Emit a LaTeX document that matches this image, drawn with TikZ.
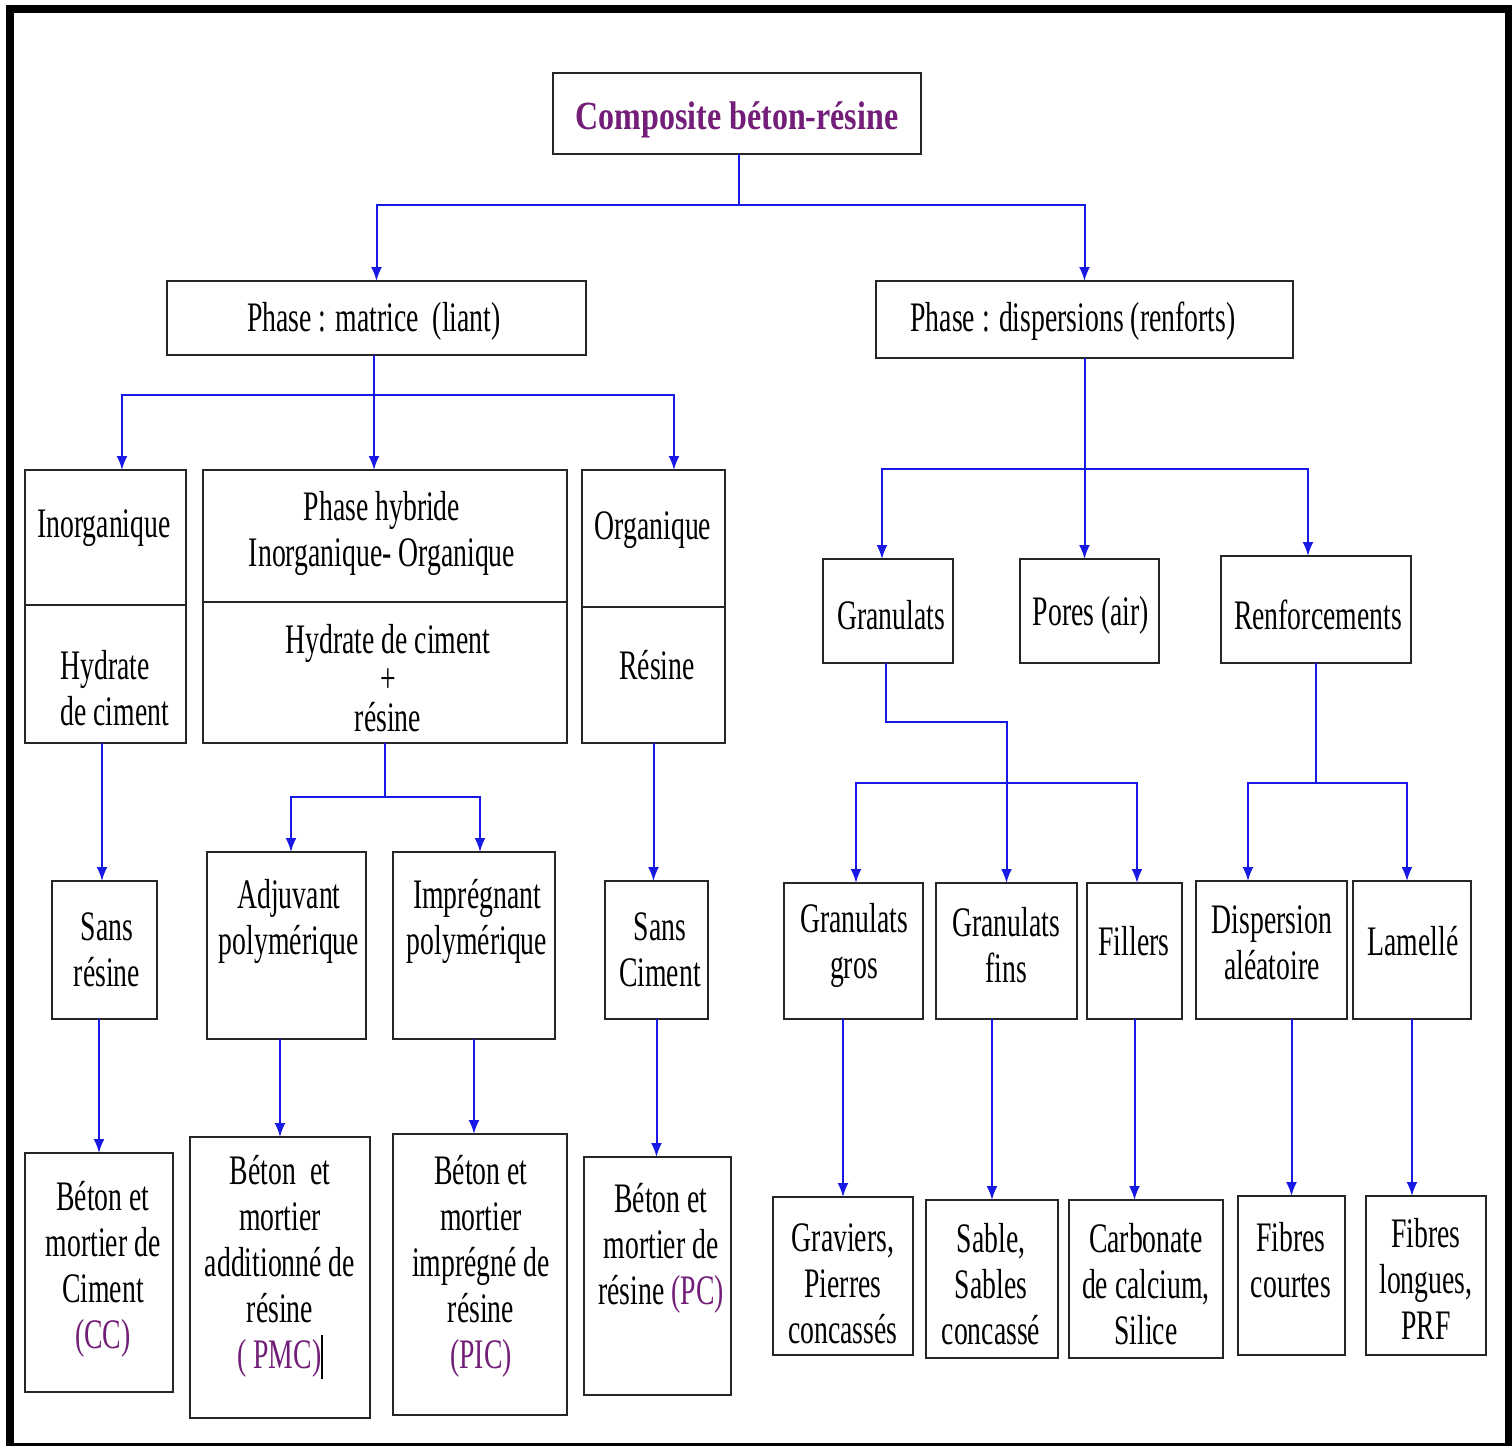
\documentclass[tikz,border=0pt]{standalone}
\usepackage{fontspec}
\setmainfont{Liberation Serif}[FakeStretch=0.66]
\newfontfamily\titlefont{Liberation Serif}[FakeStretch=0.8]
\usetikzlibrary{arrows.meta,fit}
\definecolor{purp}{RGB}{115,30,120}
\definecolor{blu}{RGB}{25,25,230}
\tikzset{
 box/.style={draw=black!85, line width=1pt, inner sep=0pt, outer sep=0pt},
 txt/.style={align=center, inner sep=0pt, yshift=-1.5pt, font=\fontsize{21}{23}\selectfont},
 conn/.style={draw=blu, line width=1pt},
 arr/.style={conn, -{Latex[length=7pt,width=5.5pt]}},
}
\newcommand{\bx}[5]{\node[box, fit={(#2,#3)(#4,#5)}] (#1) {};}
\begin{document}
\begin{tikzpicture}[x=0.5pt,y=-0.5pt]
\useasboundingbox (0,0) rectangle (1512,1446);
\fill[white] (0,0) rectangle (1512,1446);
\draw[line width=4pt] (9.5,9) rectangle (1508.5,1447);
% boxes
\bx{title}{553}{73}{921}{154}
\bx{matrice}{167}{281}{586}{355}
\bx{disp}{876}{281}{1293}{358}
\bx{inorgT}{25}{470}{186}{605}
\bx{inorgB}{25}{605}{186}{743}
\bx{hybT}{203}{470}{567}{602}
\bx{hybB}{203}{602}{567}{743}
\bx{orgT}{582}{470}{725}{607}
\bx{orgB}{582}{607}{725}{743}
\bx{sansres}{52}{881}{157}{1019}
\bx{adj}{207}{852}{366}{1039}
\bx{impr}{393}{852}{555}{1039}
\bx{sansc}{605}{881}{708}{1019}
\bx{cc}{25}{1153}{173}{1392}
\bx{pmc}{190}{1137}{370}{1418}
\bx{pic}{393}{1134}{567}{1415}
\bx{pc}{584}{1157}{731}{1395}
\bx{gran}{823}{559}{953}{663}
\bx{pores}{1020}{559}{1159}{663}
\bx{renf}{1221}{556}{1411}{663}
\bx{gros}{784}{883}{923}{1019}
\bx{fins}{936}{883}{1077}{1019}
\bx{fill}{1087}{883}{1182}{1019}
\bx{disal}{1196}{881}{1347}{1019}
\bx{lam}{1353}{881}{1471}{1019}
\bx{grav}{773}{1197}{913}{1355}
\bx{sable}{926}{1200}{1058}{1358}
\bx{carb}{1069}{1200}{1223}{1358}
\bx{fc}{1238}{1196}{1345}{1355}
\bx{fl}{1366}{1196}{1486}{1355}
% texts
\node[inner sep=0pt, text=purp, yshift=-1.5pt, font=\titlefont\bfseries\fontsize{20}{23}\selectfont] (t-title) at (737,117) {Composite béton-résine};
\node[txt] (t-matrice) at (374,318) {Phase : matrice\ \ (liant)};
\node[txt] (t-disp) at (1073,318) {Phase : dispersions (renforts)};
\node[txt] (t-inorgT) at (104,525) {Inorganique};
\node[txt, align=left, anchor=west] (t-inorgB) at (60,685) {Hydrate\\de ciment};
\node[txt] (t-hybT) at (382,530) {Phase hybride\\Inorganique- Organique};
\node[txt, font=\fontsize{21}{19.5}\selectfont] (t-hybB) at (388,675) {Hydrate de ciment\\+\\résine};
\node[txt] (t-orgT) at (653,527) {Organique};
\node[txt] (t-orgB) at (657,662) {Résine};
\node[txt] (t-sansres) at (107,947) {Sans\\résine};
\node[txt] (t-adj) at (289,918) {Adjuvant\\polymérique};
\node[txt] (t-impr) at (477,918) {Imprégnant\\polymérique};
\node[txt] (t-sansc) at (660,947) {Sans\\Ciment};
\node[txt] (t-cc) at (103,1266) {Béton et\\mortier de\\Ciment\\\textcolor{purp}{(CC)}};
\node[txt] (t-pmc) at (280,1264) {Béton\ \ et\\mortier\\additionné de\\résine\\\textcolor{purp}{( PMC)}\rule[-0.25em]{0.7pt}{1.05em}};
\node[txt] (t-pic) at (481,1263) {Béton et\\mortier\\imprégné de\\résine\\\textcolor{purp}{(PIC)}};
\node[txt] (t-pc) at (661,1245) {Béton et\\mortier de\\résine \textcolor{purp}{(PC)}};
\node[txt] (t-gran) at (891,612) {Granulats};
\node[txt] (t-pores) at (1091,612) {Pores (air)};
\node[txt] (t-renf) at (1318,612) {Renforcements};
\node[txt] (t-gros) at (854,942) {Granulats\\gros};
\node[txt] (t-fins) at (1006,942) {Granulats\\fins};
\node[txt] (t-fill) at (1134,938) {Fillers};
\node[txt] (t-disal) at (1272,940) {Dispersion\\aléatoire};
\node[txt] (t-lam) at (1413,938) {Lamellé};
\node[txt] (t-grav) at (843,1281) {Graviers,\\Pierres\\concassés};
\node[txt] (t-sable) at (991,1281) {Sable,\\Sables\\concassé};
\node[txt] (t-carb) at (1146,1281) {Carbonate\\de calcium,\\Silice};
\node[txt] (t-fc) at (1291,1257) {Fibres\\courtes};
\node[txt] (t-fl) at (1426,1276) {Fibres\\longues,\\PRF};
% bus levels
\coordinate (b1) at (0,205);
\coordinate (b2) at (0,395);
\coordinate (b3) at (0,469);
\coordinate (b4) at (0,722);
\coordinate (b5) at (0,783);
\coordinate (b6) at (0,797);
% offset anchors
\coordinate (m1) at ([xshift=-1.25pt]matrice.south);
\coordinate (inN) at ([xshift=8.25pt]inorgT.north);
\coordinate (orgN) at ([xshift=10.25pt]orgT.north);
\coordinate (adjN) at ([xshift=2.25pt]adj.north);
\coordinate (imprN) at ([xshift=3pt]impr.north);
\coordinate (granN) at ([xshift=-3pt]gran.north);
\coordinate (renfN) at ([xshift=-4pt]renf.north);
\coordinate (grosN) at ([xshift=1.25pt]gros.north);
\coordinate (fillN) at ([xshift=1.25pt]fill.north);
\coordinate (disalN) at ([xshift=-11.75pt]disal.north);
\coordinate (lamN) at ([xshift=-2.5pt]lam.north);
\coordinate (t1) at ([xshift=1pt]title.south);
\coordinate (g1) at ([xshift=-1pt]gran.south);
\coordinate (s1) at ([xshift=-1.25pt]sansres.north);
% connectors
\draw[conn] (t1) -- (t1 |- b1);
\draw[arr] (t1 |- b1) -| (matrice.north);
\draw[arr] (t1 |- b1) -| (disp.north);
\draw[arr] (m1) -- (m1 |- hybT.north);
\draw[arr] (m1 |- b2) -| (inN);
\draw[arr] (m1 |- b2) -| (orgN);
\draw[arr] (s1 |- inorgB.south) -- (s1);
\draw[arr] (cc.north |- sansres.south) -- (cc.north);
\draw[conn] (hybB.south) -- (hybB.south |- b6);
\draw[arr] (hybB.south |- b6) -| (adjN);
\draw[arr] (hybB.south |- b6) -| (imprN);
\draw[arr] (pmc.north |- adj.south) -- (pmc.north);
\draw[arr] (impr.south) -- (impr.south |- pic.north);
\draw[arr] (orgB.south) -- (orgB.south |- sansc.north);
\draw[arr] (sansc.south) -- (sansc.south |- pc.north);
\draw[arr] (disp.south) -- (disp.south |- pores.north);
\draw[arr] (disp.south |- b3) -| (granN);
\draw[arr] (disp.south |- b3) -| (renfN);
\draw[arr] (g1) |- (fins.north |- b4) -- (fins.north);
\draw[arr] (fins.north |- b5) -| (grosN);
\draw[arr] (fins.north |- b5) -| (fillN);
\draw[conn] (renf.south) -- (renf.south |- b5);
\draw[arr] (renf.south |- b5) -| (disalN);
\draw[arr] (renf.south |- b5) -| (lamN);
\draw[arr] (grav.north |- gros.south) -- (grav.north);
\draw[arr] (sable.north |- fins.south) -- (sable.north);
\draw[arr] (fill.south) -- (fill.south |- carb.north);
\draw[arr] (fc.north |- disal.south) -- (fc.north);
\draw[arr] (lam.south) -- (lam.south |- fl.north);
\end{tikzpicture}
\end{document}
